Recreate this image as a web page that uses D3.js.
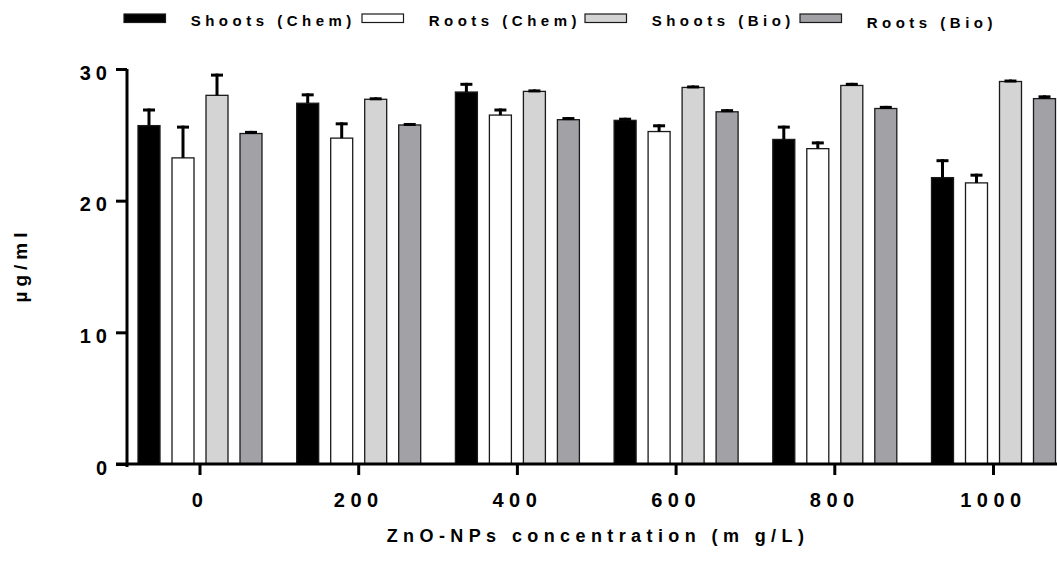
<!DOCTYPE html>
<html>
<head>
<meta charset="utf-8">
<script src="https://cdn.jsdelivr.net/npm/d3@7"></script>
<style>
    body { margin: 0; background: #fff; }
    text { font-family: Arial, "Liberation Sans", sans-serif; font-weight: bold; fill: #000; }
</style>
</head>
<body>
<div id="chart"></div>
<script>
//categories on the x axis
var concentrations = ["0", "200", "400", "600", "800", "1000"];
//series names
var seriesNames = ["Shoots (Chem)", "Roots (Chem)", "Shoots (Bio)", "Roots (Bio)"];
//series values (µg/ml)
var shootsChem = [25.7, 27.4, 28.25, 26.1, 24.65, 21.75];
var rootsChem = [23.25, 24.75, 26.5, 25.25, 23.95, 21.35];
var shootsBio = [28.0, 27.7, 28.3, 28.6, 28.75, 29.05];
var rootsBio = [25.1, 25.75, 26.15, 26.75, 27.0, 27.75];
//error values (upper only)
var shootsChemErr = [1.3, 0.75, 0.7, 0.2, 1.05, 1.4];
var rootsChemErr = [2.45, 1.2, 0.5, 0.55, 0.55, 0.7];
var shootsBioErr = [1.65, 0.15, 0.15, 0.15, 0.2, 0.15];
var rootsBioErr = [0.2, 0.15, 0.2, 0.2, 0.2, 0.25];
//y tick values
var yTicks = [0, 10, 20, 30];

//fill colours per series
var fills = ["#000000", "#ffffff", "#d4d4d4", "#a2a1a6"];

//set svg dimensions
var svgWidth = 1057;
var svgHeight = 564;

var svg = d3.select("#chart").append("svg")
    .attr("width", svgWidth)
    .attr("height", svgHeight);

//build rows from the arrays
var values = [shootsChem, rootsChem, shootsBio, rootsBio];
var errors = [shootsChemErr, rootsChemErr, shootsBioErr, rootsBioErr];
var rows = concentrations.map(function (c, i) {
    return {
        conc: c,
        bars: seriesNames.map(function (s, j) {
            return { series: s, idx: j, value: values[j][i], err: errors[j][i] };
        })
    };
});

//scales
var x0 = d3.scaleBand()
    .domain(concentrations)
    .range([120.65, 1072.85])
    .paddingInner(0.143)
    .paddingOuter(0.0715);
var x1 = d3.scaleBand()
    .domain(seriesNames)
    .range([0, x0.bandwidth()])
    .paddingInner(0.353)
    .paddingOuter(0.1765);
var y = d3.scaleLinear()
    .domain([0, 30])
    .range([464, 69]);

//bars
var groups = svg.selectAll(".group")
    .data(rows)
    .enter()
    .append("g")
    .attr("class", "group")
    .attr("transform", d => `translate(${x0(d.conc)},0)`);

groups.selectAll("rect.bar")
    .data(d => d.bars)
    .enter()
    .append("rect")
    .attr("class", "bar")
    .attr("x", d => x1(d.series))
    .attr("y", d => y(d.value))
    .attr("width", x1.bandwidth())
    .attr("height", d => y(0) - y(d.value))
    .attr("fill", d => fills[d.idx])
    .attr("stroke", "#1a1a1a")
    .attr("stroke-width", 1.3);

//error bars (stem + cap)
groups.selectAll("line.stem")
    .data(d => d.bars)
    .enter()
    .append("line")
    .attr("class", "stem")
    .attr("x1", d => x1(d.series) + x1.bandwidth() / 2)
    .attr("x2", d => x1(d.series) + x1.bandwidth() / 2)
    .attr("y1", d => y(d.value))
    .attr("y2", d => y(d.value + d.err))
    .attr("stroke", "#000")
    .attr("stroke-width", 3);

groups.selectAll("rect.cap")
    .data(d => d.bars)
    .enter()
    .append("rect")
    .attr("class", "cap")
    .attr("x", d => x1(d.series) + x1.bandwidth() / 2 - 6)
    .attr("y", d => y(d.value + d.err))
    .attr("width", 12)
    .attr("height", 3)
    .attr("fill", "#000");

//y axis
var yAxis = svg.append("g")
    .attr("transform", "translate(127,0)")
    .call(d3.axisLeft(y).tickValues(yTicks).tickSize(11).tickSizeOuter(0));
yAxis.select(".domain").attr("stroke-width", 3).attr("d", "M0,69V467");
yAxis.selectAll(".tick line").attr("stroke-width", 3);
yAxis.selectAll(".tick text")
    .attr("x", -15)
    .attr("dy", "0.5em")
    .style("font-size", "20px")
    .style("letter-spacing", "5px");

//x axis
var xAxis = svg.append("g")
    .attr("transform", "translate(0,464)")
    .call(d3.axisBottom(x0).tickSize(11).tickSizeOuter(0));
xAxis.select(".domain").attr("stroke-width", 3).attr("d", "M116,0H1057");
xAxis.selectAll(".tick line").attr("stroke-width", 3);
xAxis.selectAll(".tick text")
    .attr("y", 43)
    .attr("dy", 0)
    .style("font-size", "20px")
    .style("letter-spacing", "5.5px");

//axis titles
svg.append("text")
    .attr("x", 598)
    .attr("y", 542)
    .attr("text-anchor", "middle")
    .style("font-size", "18px")
    .style("letter-spacing", "5.4px")
    .text("ZnO-NPs concentration (m g/L)");

svg.append("text")
    .attr("transform", "translate(27,265) rotate(-90)")
    .attr("text-anchor", "middle")
    .style("font-size", "19px")
    .style("letter-spacing", "5px")
    .text("µg/ml");

//legend
var legendX = [124, 362, 585, 800];
var legendY = [26, 26, 26, 28];
var legend = svg.selectAll(".legend")
    .data(seriesNames)
    .enter()
    .append("g")
    .attr("class", "legend")
    .attr("transform", (d, i) => `translate(${legendX[i]},0)`);
legend.append("rect")
    .attr("x", 0)
    .attr("y", 14)
    .attr("width", 41.5)
    .attr("height", 8.5)
    .attr("fill", (d, i) => fills[i])
    .attr("stroke", "#1a1a1a")
    .attr("stroke-width", 1.2);
legend.append("text")
    .attr("x", 66.7)
    .attr("y", (d, i) => legendY[i])
    .style("font-size", "15px")
    .style("letter-spacing", "4.5px")
    .text(d => d);
</script>
</body>
</html>
